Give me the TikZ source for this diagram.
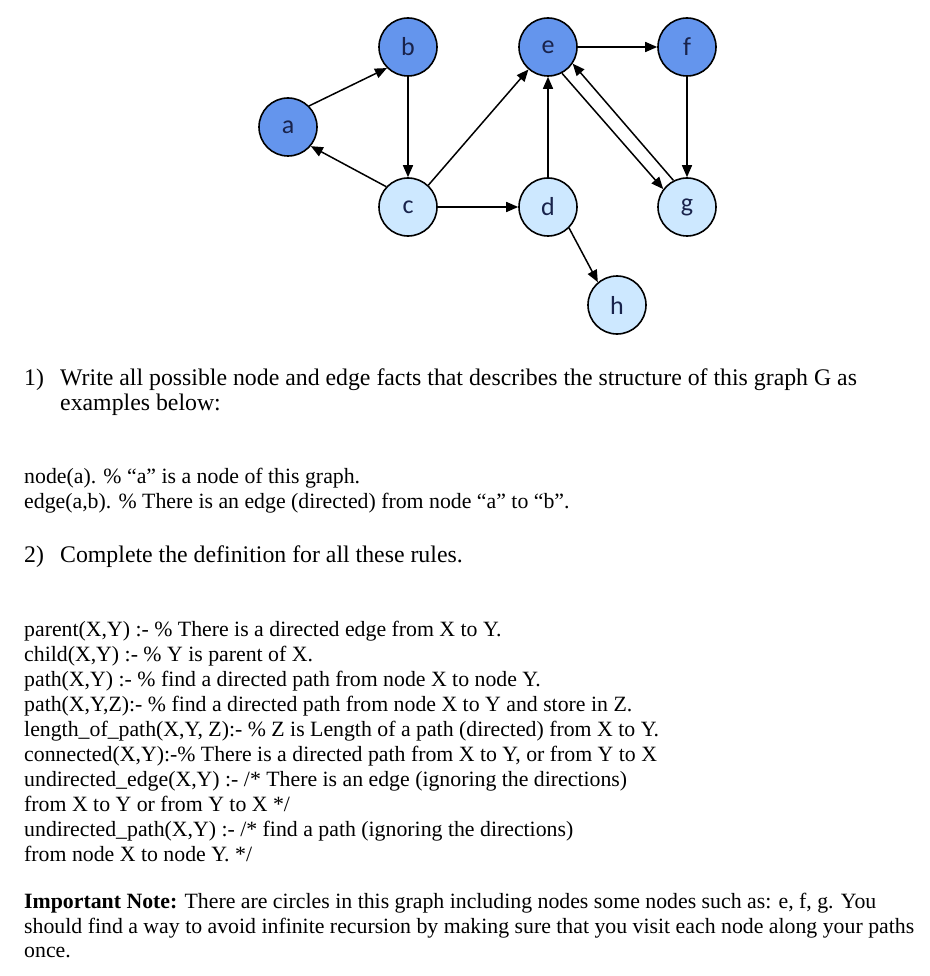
\documentclass[tikz,border=0pt]{standalone}
\usepackage{fontspec}
\setmainfont{Liberation Serif}
\newfontfamily\labelfont{Carlito}
\usetikzlibrary{arrows.meta}

\definecolor{darkvert}{RGB}{100,149,237}
\definecolor{lightvert}{RGB}{205,232,255}
\definecolor{labelblue}{RGB}{25,35,75}

\tikzset{
  vert/.style={circle, draw=black, line width=1.6pt, minimum size=58pt, inner sep=0pt,
    font=\labelfont\fontsize{26}{26}\selectfont, text=labelblue},
  darkv/.style={vert, fill=darkvert},
  lightv/.style={vert, fill=lightvert},
  edge/.style={line width=1.5pt, -{Triangle[length=12pt,width=10pt]}},
  line/.style={anchor=base west, inner sep=0pt, font=\fontsize{21.8}{25}\selectfont},
  head/.style={line, font=\fontsize{23.8}{27}\selectfont},
}

\begin{document}
\begin{tikzpicture}[x=1pt, y=-1pt]
  \useasboundingbox[fill=white] (0,0) rectangle (929,976);
  % the graph G
  \node[darkv]  (a) at (288,127) {a};
  \node[darkv]  (b) at (408,47)  {b};
  \node[darkv]  (e) at (548,47)  {e};
  \node[darkv]  (f) at (687,47)  {f};
  \node[lightv] (c) at (408,207) {c};
  \node[lightv] (d) at (548,207) {d};
  \node[lightv] (g) at (687,207) {g};
  \node[lightv] (h) at (617,305) {h};

  \draw[edge] (a.45) -- (b.225);
  \draw[edge] (b) -- (c);
  \draw[edge] (c.137) -- (a.-40);
  \draw[edge] (c.47) -- (e.229);
  \draw[edge] (c) -- (d);
  \draw[edge] (d) -- (e);
  \draw[edge] (d.-45) -- (h.130);
  \draw[edge] (e) -- (f);
  \draw[edge] (f) -- (g);
  \draw[edge] (e.-62) -- (g.143);
  \draw[edge] (g.117) -- (e.-34);

  % question 1
  \node[head] (q1n) at (24,385) {1)};
  \node[head] (q1a) at (60,385) {Write all possible node and edge facts that describes the structure of this graph G as};
  \node[head] (q1b) at (60,410) {examples below:};
  \node[line] (ex1) at (24,483) {node(a). \% “a” is a node of this graph.};
  \node[line] (ex2) at (24,508) {edge(a,b). \% There is an edge (directed) from node “a” to “b”.};

  % question 2
  \node[head] (q2n) at (24,562) {2)};
  \node[head] (q2a) at (60,562) {Complete the definition for all these rules.};
  \node[line] (r1)  at (24,636) {parent(X,Y) :- \% There is a directed edge from X to Y.};
  \node[line] (r2)  at (24,661) {child(X,Y) :- \% Y is parent of X.};
  \node[line] (r3)  at (24,686) {path(X,Y) :- \% find a directed path from node X to node Y.};
  \node[line] (r4)  at (24,711) {path(X,Y,Z):- \% find a directed path from node X to Y and store in Z.};
  \node[line] (r5)  at (24,736) {length\_of\_path(X,Y, Z):- \% Z is Length of a path (directed) from X to Y.};
  \node[line] (r6)  at (24,761) {connected(X,Y):-\% There is a directed path from X to Y, or from Y to X};
  \node[line] (r7)  at (24,786) {undirected\_edge(X,Y) :- /* There is an edge (ignoring the directions)};
  \node[line] (r8)  at (24,811) {from X to Y or from Y to X */};
  \node[line] (r9)  at (24,836) {undirected\_path(X,Y) :- /* find a path (ignoring the directions)};
  \node[line] (r10) at (24,861) {from node X to node Y. */};

  % note
  \node[line] (n1) at (24,908) {\textbf{Important Note:} There are circles in this graph including nodes some nodes such as: e, f, g. You};
  \node[line] (n2) at (24,933) {should find a way to avoid infinite recursion by making sure that you visit each node along your paths};
  \node[line] (n3) at (24,957) {once.};
\end{tikzpicture}
\end{document}
